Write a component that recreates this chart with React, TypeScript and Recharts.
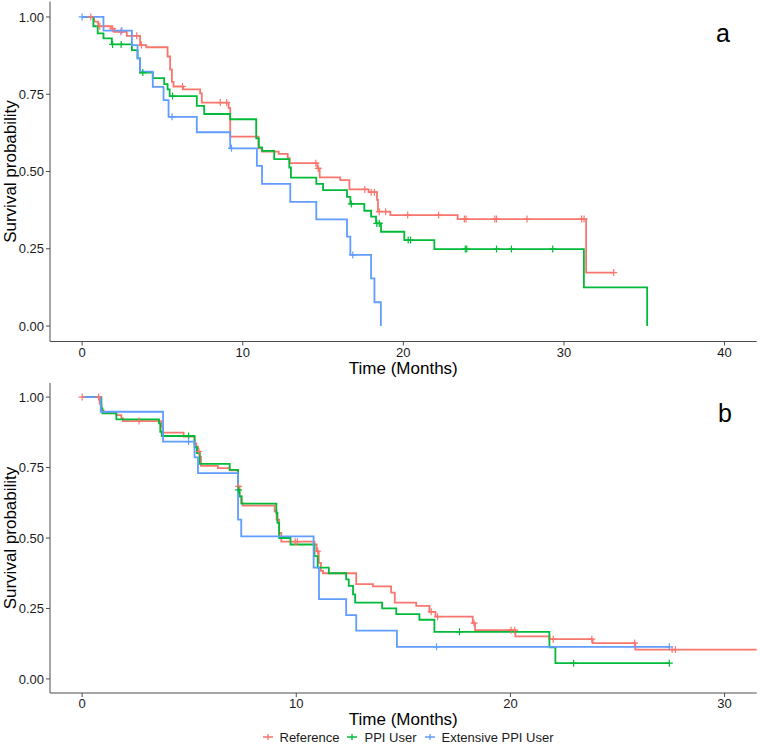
import { ComposedChart, Line, Scatter, XAxis, YAxis, Label } from "recharts";

const FONT = '"Liberation Sans", Arial, Helvetica, sans-serif';
const AXIS = "#4d4d4d";

const groups = ["Reference", "PPI User", "Extensive PPI User"];
const colors = ["#F8766D", "#00BA38", "#619CFF"];
const yTicks = [0, 0.25, 0.5, 0.75, 1];

// panel a: event times (months) and survival after each step, plus censor times
const aRefTime = [0, 0.75, 1.0, 1.8, 2.0, 2.78, 3.61, 3.99, 5.32, 5.48, 5.59, 5.69, 6.3, 7.35, 7.45, 9.12, 9.22, 10.98, 11.19, 12.24, 12.8, 12.92, 14.65, 14.79, 16.07, 16.64, 17.84, 18.36, 18.42, 19.19, 23.38, 31.38];
const aRefSurv = [1, 0.985, 0.97, 0.962, 0.952, 0.939, 0.909, 0.902, 0.872, 0.83, 0.79, 0.775, 0.766, 0.753, 0.723, 0.706, 0.613, 0.575, 0.564, 0.557, 0.543, 0.527, 0.51, 0.481, 0.472, 0.442, 0.433, 0.408, 0.37, 0.359, 0.346, 0.173];
const aRefCens = [0.54, 1.1, 1.9, 2.41, 3.4, 3.69, 6.25, 8.6, 9.0, 14.55, 14.7, 17.6, 18.0, 18.2, 18.5, 18.9, 20.27, 22.2, 23.8, 23.9, 25.7, 25.8, 27.7, 31.1, 31.25, 33.1];

const aPpiTime = [0, 0.7, 0.97, 1.33, 1.85, 3.1, 3.45, 3.6, 4.4, 5.11, 5.32, 5.45, 7.14, 7.6, 9.22, 10.84, 11.0, 11.2, 11.96, 12.9, 13.0, 14.58, 15.0, 16.49, 16.7, 17.57, 17.99, 18.3, 18.61, 20.06, 21.93, 31.24, 35.18];
const aPpiSurv = [1, 0.97, 0.947, 0.931, 0.911, 0.893, 0.866, 0.82, 0.802, 0.783, 0.766, 0.744, 0.712, 0.686, 0.669, 0.607, 0.578, 0.567, 0.54, 0.513, 0.48, 0.46, 0.44, 0.418, 0.395, 0.373, 0.354, 0.332, 0.305, 0.278, 0.249, 0.125, 0];
const aPpiCens = [1.9, 2.43, 3.78, 5.63, 16.76, 18.35, 18.5, 20.3, 20.45, 23.86, 23.95, 25.8, 26.73, 29.3];

const aExtTime = [0, 1.33, 3.1, 3.45, 3.6, 4.4, 5.07, 5.38, 7.14, 9.22, 10.88, 11.2, 12.96, 14.58, 16.49, 16.7, 17.99, 18.2, 18.6];
const aExtSurv = [1, 0.956, 0.909, 0.866, 0.823, 0.774, 0.731, 0.677, 0.627, 0.575, 0.518, 0.46, 0.402, 0.345, 0.289, 0.23, 0.154, 0.077, 0];
const aExtCens = [0, 2.47, 5.6, 9.3, 16.85];

// panel b
const bRefTime = [0, 0.82, 0.9, 1.0, 1.6, 1.83, 1.9, 3.7, 3.75, 4.74, 5.25, 5.33, 5.41, 5.49, 5.55, 6.34, 6.89, 7.28, 7.35, 7.43, 7.5, 8.99, 9.08, 9.2, 9.3, 10.85, 10.95, 11.05, 11.15, 11.25, 12.8, 13.58, 14.43, 14.6, 15.6, 16.22, 16.5, 18.24, 18.35, 20.23, 21.82, 23.84, 25.83];
const bRefSurv = [1, 0.977, 0.954, 0.943, 0.936, 0.925, 0.915, 0.895, 0.874, 0.86, 0.836, 0.824, 0.807, 0.789, 0.756, 0.748, 0.74, 0.683, 0.648, 0.624, 0.615, 0.595, 0.565, 0.518, 0.487, 0.477, 0.453, 0.412, 0.383, 0.375, 0.336, 0.328, 0.306, 0.271, 0.259, 0.238, 0.221, 0.198, 0.173, 0.151, 0.141, 0.127, 0.104];
const bRefCens = [0, 0.77, 2.66, 5.45, 7.3, 9.95, 10.05, 11.0, 16.3, 16.6, 18.3, 20.03, 20.2, 22.0, 23.8, 25.8, 27.55, 27.7];
const bRefEnd = 33;

const bPpiTime = [0, 0.9, 0.95, 1.6, 3.59, 3.65, 3.72, 5.25, 5.36, 5.49, 6.89, 7.28, 7.35, 7.45, 9.07, 9.12, 9.2, 9.73, 10.85, 11.0, 11.52, 12.33, 12.45, 12.65, 12.75, 14.01, 14.67, 15.75, 16.45, 21.82, 22.1];
const bPpiSurv = [1, 0.96, 0.942, 0.921, 0.907, 0.877, 0.862, 0.822, 0.801, 0.763, 0.742, 0.671, 0.648, 0.622, 0.589, 0.554, 0.5, 0.477, 0.436, 0.395, 0.375, 0.353, 0.33, 0.3, 0.271, 0.25, 0.23, 0.21, 0.167, 0.112, 0.056];
const bPpiCens = [4.97, 7.3, 17.62, 22.95, 27.42];

const bExtTime = [0, 0.87, 3.78, 5.25, 5.41, 7.28, 7.43, 10.81, 11.06, 12.33, 12.8, 14.7];
const bExtSurv = [1, 0.948, 0.842, 0.786, 0.73, 0.565, 0.506, 0.395, 0.283, 0.226, 0.171, 0.114];
const bExtCens = [4.97, 16.55, 27.42];

type Pt = { t: number; s: number };
type Curve = { line: Pt[]; cens: Pt[] };

function curve(times: number[], surv: number[], cens: number[], end = 0): Curve {
  const line = times.map((t, i) => ({ t, s: surv[i] }));
  const lastT = times[times.length - 1];
  const stop = Math.max(end, lastT, ...cens);
  if (stop > lastT) line.push({ t: stop, s: surv[surv.length - 1] });
  const marks = cens.map((c) => {
    let s = surv[0];
    times.forEach((t, i) => {
      if (t <= c) s = surv[i];
    });
    return { t: c, s };
  });
  return { line, cens: marks };
}

const panelA = [
  curve(aRefTime, aRefSurv, aRefCens),
  curve(aPpiTime, aPpiSurv, aPpiCens),
  curve(aExtTime, aExtSurv, aExtCens),
];
const panelB = [
  curve(bRefTime, bRefSurv, bRefCens, bRefEnd),
  curve(bPpiTime, bPpiSurv, bPpiCens),
  curve(bExtTime, bExtSurv, bExtCens),
];

const cross = (color: string) => (props: any) => {
  const { cx, cy } = props;
  if (cx == null || cy == null) return <g />;
  return (
    <path
      d={`M${cx - 3.5},${cy}H${cx + 3.5}M${cx},${cy - 3.5}V${cy + 3.5}`}
      stroke={color}
      strokeWidth={1.2}
      fill="none"
    />
  );
};

interface PanelProps {
  curves: Curve[];
  domain: [number, number];
  xTicks: number[];
  height: number;
  margin: { top: number; right: number; bottom: number; left: number };
  plotTop: number;
  plotHeight: number;
}

function Panel({ curves, domain, xTicks, height, margin, plotTop, plotHeight }: PanelProps) {
  const midY = plotTop + plotHeight / 2;
  const titleY = plotTop + plotHeight + 32;
  return (
    <ComposedChart width={760} height={height} margin={margin}>
      <XAxis
        type="number"
        dataKey="t"
        domain={domain}
        ticks={xTicks}
        allowDataOverflow
        height={36}
        tickSize={4}
        tickMargin={2}
        tick={{ fontSize: 13, fill: "#1a1a1a", fontFamily: FONT }}
        axisLine={{ stroke: AXIS, strokeWidth: 1 }}
        tickLine={{ stroke: AXIS, strokeWidth: 1 }}
      >
        <Label
          content={() => (
            <text x={403.3} y={titleY} textAnchor="middle" fontSize={17} fontFamily={FONT} fill="#000">
              Time (Months)
            </text>
          )}
        />
      </XAxis>
      <YAxis
        type="number"
        domain={[-0.05, 1.05]}
        ticks={yTicks}
        width={50}
        tickSize={4}
        tickMargin={2}
        tickFormatter={(v: number) => v.toFixed(2)}
        tick={{ fontSize: 13, fill: "#1a1a1a", fontFamily: FONT }}
        axisLine={{ stroke: AXIS, strokeWidth: 1 }}
        tickLine={{ stroke: AXIS, strokeWidth: 1 }}
      >
        <Label
          content={() => (
            <text
              x={16}
              y={midY}
              transform={`rotate(-90, 16, ${midY})`}
              textAnchor="middle"
              fontSize={17}
              fontFamily={FONT}
              fill="#000"
            >
              Survival probability
            </text>
          )}
        />
      </YAxis>
      {curves.map((c, i) => (
        <Line
          key={groups[i]}
          data={c.line}
          dataKey="s"
          type="stepAfter"
          stroke={colors[i]}
          strokeWidth={1.8}
          dot={false}
          activeDot={false}
          isAnimationActive={false}
        />
      ))}
      {curves.map((c, i) => (
        <Scatter
          key={groups[i] + "-cens"}
          data={c.cens}
          dataKey="s"
          shape={cross(colors[i])}
          isAnimationActive={false}
        />
      ))}
    </ComposedChart>
  );
}

export default function App() {
  return (
    <div style={{ position: "absolute", left: 0, top: 0, width: 760, height: 754, background: "#fff", fontFamily: FONT }}>
      <div style={{ position: "absolute", left: 0, top: 0 }}>
        <Panel
          curves={panelA}
          domain={[-2, 42]}
          xTicks={[0, 10, 20, 30, 40]}
          height={383}
          margin={{ top: 1.5, right: 3.3, bottom: 5.5, left: 0 }}
          plotTop={1.5}
          plotHeight={340}
        />
      </div>
      <div style={{ position: "absolute", left: 0, top: 383 }}>
        <Panel
          curves={panelB}
          domain={[-1.5, 31.5]}
          xTicks={[0, 10, 20, 30]}
          height={346}
          margin={{ top: 0, right: 3.3, bottom: 0, left: 0 }}
          plotTop={0}
          plotHeight={310}
        />
      </div>
      <div style={{ position: "absolute", left: 716, top: 21.3, fontSize: 25, lineHeight: "25px", color: "#000" }}>a</div>
      <div style={{ position: "absolute", left: 718, top: 400.9, fontSize: 25, lineHeight: "25px", color: "#000" }}>b</div>
      <div
        style={{
          position: "absolute",
          left: 0,
          top: 729,
          width: 815,
          height: 16,
          display: "flex",
          justifyContent: "center",
          alignItems: "center",
          fontSize: 13,
          color: "#1a1a1a",
        }}
      >
        {groups.map((g, i) => (
          <div key={g} style={{ display: "flex", alignItems: "center", marginRight: i < groups.length - 1 ? 7 : 0 }}>
            <svg width={12} height={12} style={{ marginRight: 6 }}>
              <path d="M1,6H11M6,3V9" stroke={colors[i]} strokeWidth={1.3} fill="none" />
            </svg>
            <span>{g}</span>
          </div>
        ))}
      </div>
    </div>
  );
}
